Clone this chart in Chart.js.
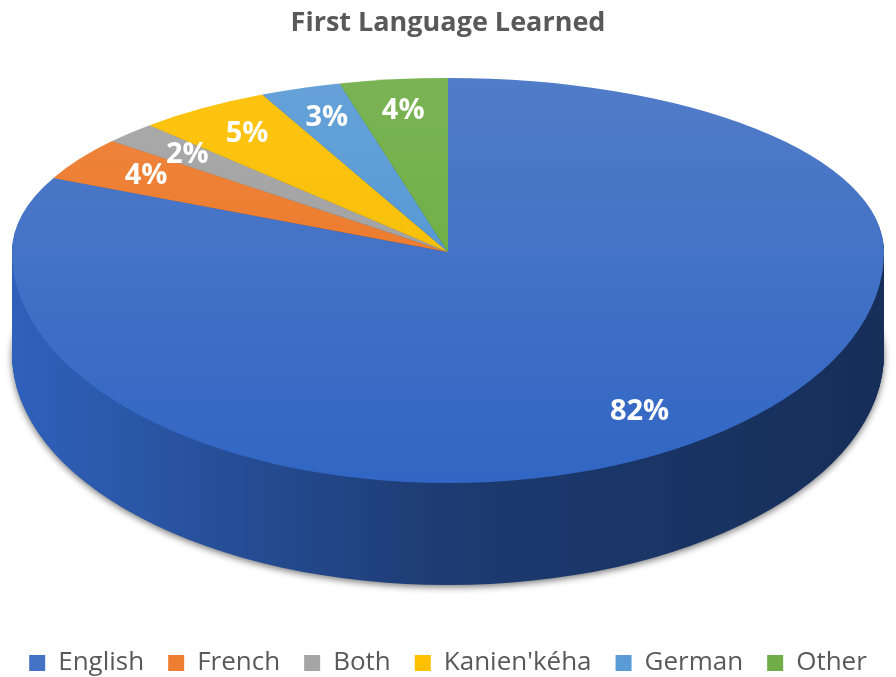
<!DOCTYPE html>
<html>
<head>
<meta charset="utf-8">
<script src="https://cdn.jsdelivr.net/npm/chart.js@4/dist/chart.umd.min.js"></script>
<style>
  html, body { margin: 0; padding: 0; background: #ffffff; }
  #wrap { width: 896px; height: 677px; position: relative; }
</style>
</head>
<body>
<div id="wrap"><canvas id="chart"></canvas></div>
<script>
// ---- data ----
const chartTitle = 'First Language Learned';
const categories = ['English', 'French', 'Both', "Kanien'kéha", 'German', 'Other'];
const percentages = [82, 4, 2, 5, 3, 4];
const sliceColors = ['#4472C4', '#ED7D31', '#A5A5A5', '#FFC000', '#5B9BD5', '#70AD47'];

// ---- geometry of the tilted (3-D looking) pie, in screen pixels ----
const PIE = { cx: 448, vy: 252, rx: 436, top: 78, bottom: 483, depth: 102 };

function hexToRgb(h) {
  const n = parseInt(h.slice(1), 16);
  return [(n >> 16) & 255, (n >> 8) & 255, n & 255];
}
function rgbStr(c) {
  return 'rgb(' + c.map(v => Math.max(0, Math.min(255, Math.round(v)))).join(',') + ')';
}
function lighten(c, f) { return c.map(v => v + (255 - v) * f); }
function scaleC(c, f) { return c.map(v => v * f); }
function saturate(c, f) {
  const m = (c[0] + c[1] + c[2]) / 3;
  return c.map(v => Math.max(0, Math.min(255, v + (v - m) * f)));
}

const pie3d = {
  id: 'pie3d',
  beforeDatasetsDraw(chart) {
    const ctx = chart.ctx;
    const arcs = chart.getDatasetMeta(0).data;
    if (!arcs.length) return false;
    const R = arcs[0].outerRadius, ox = arcs[0].x, oy = arcs[0].y;
    const sx = PIE.rx / R;
    const syT = (PIE.vy - PIE.top) / R;
    const syB = (PIE.bottom - PIE.vy) / R;
    const W = chart.width, H = chart.height;

    const base = sliceColors.map(hexToRgb);
    const bottomCol = base.map(c => scaleC(saturate(c, 0.25), 0.92));
    const topGrad = base.map((c, i) => {
      const g = ctx.createLinearGradient(0, PIE.top, 0, PIE.bottom);
      g.addColorStop(0, rgbStr(lighten(c, 0.07)));
      g.addColorStop(1, rgbStr(bottomCol[i]));
      return g;
    });
    const sideGrad = bottomCol.map(c => {
      const g = ctx.createLinearGradient(PIE.cx - PIE.rx, 0, PIE.cx + PIE.rx, 0);
      g.addColorStop(0, rgbStr(scaleC(c, 0.95)));
      g.addColorStop(0.5, rgbStr(scaleC(c, 0.58)));
      g.addColorStop(1, rgbStr(scaleC(c, 0.45)));
      return g;
    });

    const drawFace = (dy, fills, shadow) => {
      for (let half = 0; half < 2; half++) {
        ctx.save();
        ctx.beginPath();
        if (half === 0) ctx.rect(0, -20, W, PIE.vy + dy + 20);
        else ctx.rect(0, PIE.vy + dy, W, H);
        ctx.clip();
        if (shadow) {
          ctx.shadowColor = 'rgba(0,0,0,0.55)';
          ctx.shadowBlur = 7;
          ctx.shadowOffsetY = 2;
        }
        arcs.forEach((a, i) => {
          ctx.save();
          ctx.translate(PIE.cx, PIE.vy + dy);
          ctx.scale(sx, half === 0 ? syT : syB);
          ctx.translate(-ox, -oy);
          ctx.beginPath();
          ctx.moveTo(a.x, a.y);
          ctx.arc(a.x, a.y, a.outerRadius, a.startAngle, a.endAngle);
          ctx.closePath();
          ctx.restore();
          ctx.fillStyle = fills[i];
          ctx.fill();
        });
        ctx.restore();
      }
    };

    // side wall (extrusion)
    for (let d = PIE.depth; d >= 1; d--) {
      drawFace(d, sideGrad, d === PIE.depth);
    }
    // top face
    drawFace(0, topGrad, false);

    // percentage labels
    ctx.save();
    ctx.font = 'bold 29px "Open Sans", sans-serif';
    ctx.fillStyle = '#ffffff';
    ctx.textAlign = 'center';
    ctx.textBaseline = 'middle';
    arcs.forEach((a, i) => {
      const mid = (a.startAngle + a.endAngle) / 2;
      const r = a.outerRadius * 0.82;
      const dx = Math.cos(mid) * r, dyv = Math.sin(mid) * r;
      const X = PIE.cx + dx * sx;
      const Y = PIE.vy + dyv * (dyv < 0 ? syT : syB);
      ctx.fillText(percentages[i] + '%', X, Y);
    });
    ctx.restore();
    return false;
  }
};

new Chart(document.getElementById('chart'), {
  type: 'pie',
  data: {
    labels: categories,
    datasets: [{
      data: percentages,
      backgroundColor: sliceColors,
      borderWidth: 0
    }]
  },
  plugins: [pie3d],
  options: {
    responsive: true,
    maintainAspectRatio: false,
    animation: false,
    layout: { padding: { left: 0, right: 0, top: 0, bottom: -9 } },
    plugins: {
      title: {
        display: true,
        text: chartTitle,
        color: '#595959',
        font: { family: '"Open Sans", sans-serif', size: 27, weight: 'bold' },
        padding: { top: 7, bottom: 10 }
      },
      legend: {
        position: 'bottom',
        labels: {
          color: '#595959',
          font: { family: '"Open Sans", sans-serif', size: 26 },
          boxWidth: 16,
          boxHeight: 16,
          padding: 24
        }
      },
      tooltip: { enabled: false }
    }
  }
});
</script>
</body>
</html>
